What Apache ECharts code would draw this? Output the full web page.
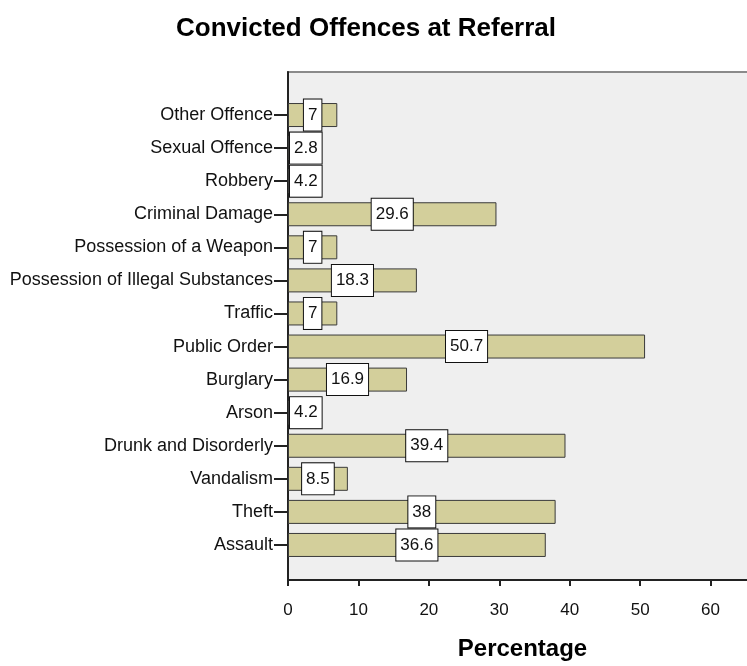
<!DOCTYPE html>
<html><head><meta charset="utf-8">
<script src="https://cdn.jsdelivr.net/npm/echarts@6/dist/echarts.min.js"></script>
<style>html,body{margin:0;padding:0;background:#fff;overflow:hidden}#c{width:800px;height:666px}</style>
</head><body><div id="c"></div>
<script>
const titleText = 'Convicted Offences at Referral';
const axisName = 'Percentage';
const categories = ['Other Offence','Sexual Offence','Robbery','Criminal Damage','Possession of a Weapon','Possession of Illegal Substances','Traffic','Public Order','Burglary','Arson','Drunk and Disorderly','Vandalism','Theft','Assault'];
const values = [7, 2.8, 4.2, 29.6, 7, 18.3, 7, 50.7, 16.9, 4.2, 39.4, 8.5, 38, 36.6];

const FONT = "'Liberation Sans', Arial, sans-serif";
const chart = echarts.init(document.getElementById('c'), null, {renderer:'canvas'});
const barData = values.map(v => v < 5
  ? {value: v, label: {position: 'insideLeft', distance: 2}}
  : {value: v});

chart.setOption({
  backgroundColor: '#ffffff',
  animation: false,
  title: {text: titleText, left: 171, top: 11,
    textStyle: {fontFamily: FONT, fontSize: 26, fontWeight: 'bold', color: '#000'}},
  grid: [
    {left: 288, top: 98.5, width: 493, height: 463, containLabel: false},
    {left: 288, top: 72, width: 493, height: 510, show: true, backgroundColor: '#efefef', borderColor: '#8a8a8a', borderWidth: 2, z: 0}
  ],
  xAxis: [
    {gridIndex: 0, type: 'value', min: 0, max: 70, interval: 10, show: false},
    {gridIndex: 1, type: 'value', min: 0, max: 70, interval: 10,
      axisLine: {show: true, lineStyle: {color: '#222', width: 2}},
      axisTick: {show: true, length: 6, lineStyle: {color: '#222', width: 2}},
      axisLabel: {margin: 22, fontFamily: FONT, fontSize: 17, color: '#111'},
      splitLine: {show: false},
      name: axisName, nameLocation: 'middle', nameGap: 57,
      nameTextStyle: {fontFamily: FONT, fontSize: 24, fontWeight: 'bold', color: '#000', padding: [0, 24, 0, 0]}}
  ],
  yAxis: [
    {gridIndex: 0, type: 'category', data: categories, inverse: true,
      axisLine: {show: false},
      axisTick: {show: true, alignWithLabel: true, length: 14, lineStyle: {color: '#222', width: 2}},
      axisLabel: {margin: 15, fontFamily: FONT, fontSize: 18, color: '#111'}},
    {gridIndex: 1, type: 'value', min: 0, max: 1,
      axisLine: {show: true, lineStyle: {color: '#222', width: 2}},
      axisTick: {show: false}, axisLabel: {show: false}, splitLine: {show: false}}
  ],
  series: [{
    type: 'bar', xAxisIndex: 0, yAxisIndex: 0, data: barData, barWidth: 24, z: 3,
    itemStyle: {color: '#d3cf9b', borderColor: '#3a3a3a', borderWidth: 1},
    label: {show: true, position: 'inside', fontFamily: FONT, fontSize: 17, color: '#111',
      backgroundColor: '#fff', borderColor: '#111', borderWidth: 1, padding: [6, 4, 6, 4], lineHeight: 19}
  }]
});
</script></body></html>
